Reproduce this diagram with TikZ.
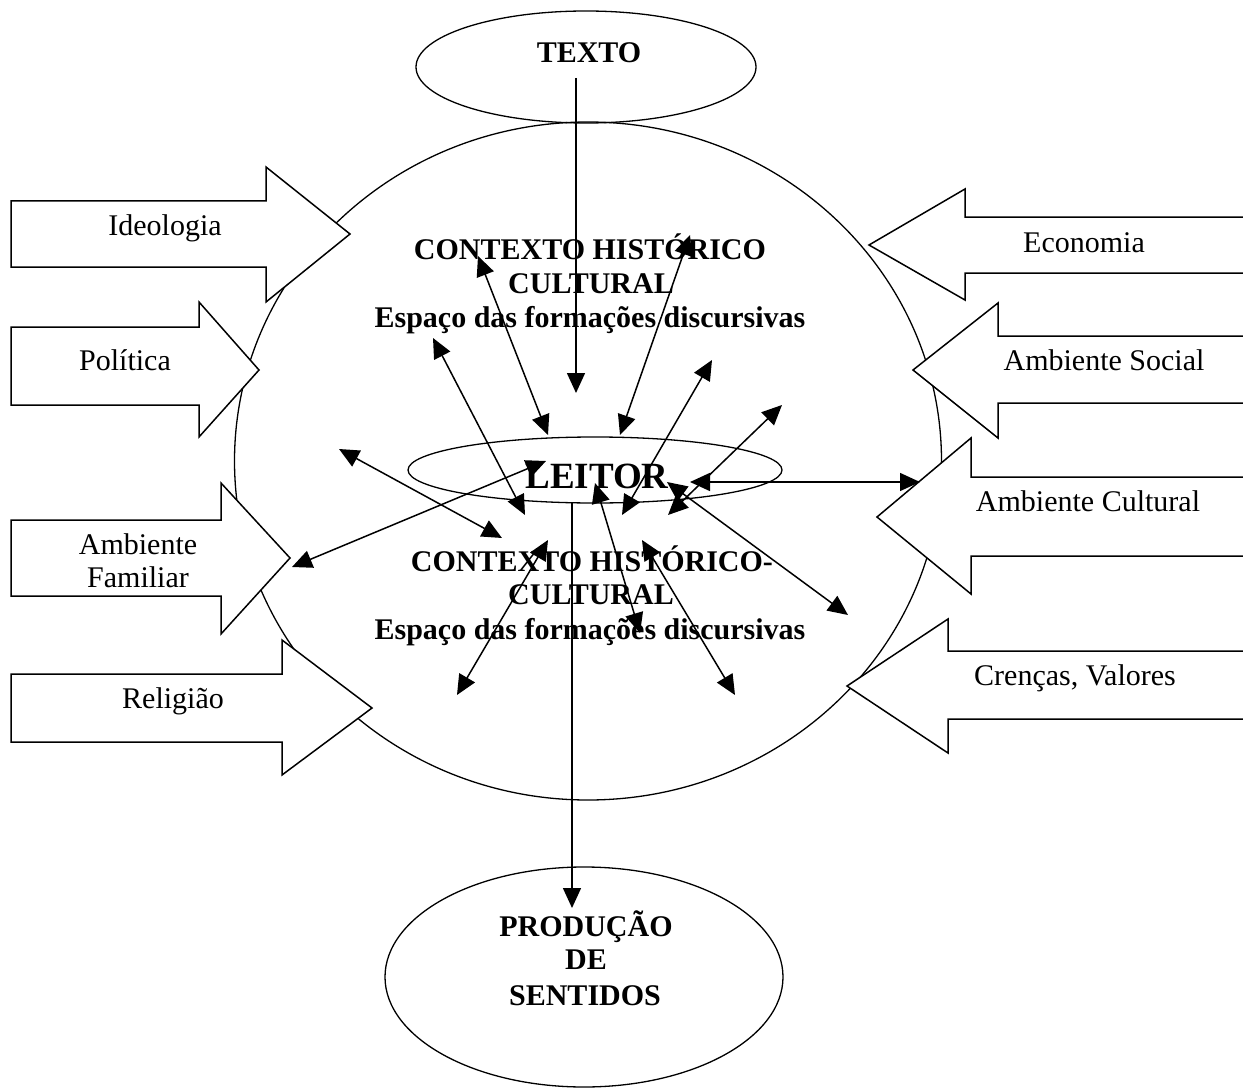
\documentclass[tikz,border=0pt]{standalone}
\usepackage{fontspec}
\setmainfont{Liberation Serif}
\usetikzlibrary{arrows.meta,shapes.geometric}

\begin{document}
\begin{tikzpicture}[x=1pt,y=-1pt,
  line width=1.5pt,
  tri/.tip={Triangle[length=20pt,width=18pt]},
  onearrow/.style={-tri},
  twoarrow/.style={tri-tri},
  oval/.style={draw, ellipse, inner sep=0pt, line width=1.3pt},
  block/.style={draw, fill=white, line width=1.5pt, line join=miter},
  lbl/.style={font=\fontsize{30}{34}\selectfont, inner sep=0pt, anchor=base},
  hdr/.style={font=\fontsize{30}{34}\selectfont\bfseries, inner sep=0pt, anchor=base}]

\useasboundingbox (0,0) rectangle (1243,1089);

% main context circle and the three ovals
\node[oval, minimum width=707pt, minimum height=678pt] (ctx) at (588,461) {};
\node[oval, minimum width=340pt, minimum height=112pt] (texto) at (586,67) {};
\node[oval, minimum width=398pt, minimum height=220pt] (prod) at (584,977) {};
\node[oval, minimum width=374pt, minimum height=66pt] (leitor) at (595,470) {};

% block arrows on the left, pointing right
\draw[block] (11,201) -- (266,201) -- (266,167) -- (350,234) -- (266,302) -- (266,267) -- (11,267) -- cycle;
\draw[block] (11,327) -- (199,327) -- (199,302) -- (259,370) -- (199,437) -- (199,405) -- (11,405) -- cycle;
\draw[block] (11,520) -- (221,520) -- (221,483) -- (290,558) -- (221,634) -- (221,596) -- (11,596) -- cycle;
\draw[block] (11,674) -- (282,674) -- (282,640) -- (372,708) -- (282,775) -- (282,742) -- (11,742) -- cycle;

% block arrows on the right, pointing left
\draw[block] (1250,217) -- (965,217) -- (965,189) -- (869,245) -- (965,300) -- (965,273) -- (1250,273);
\draw[block] (1250,336) -- (998,336) -- (998,303) -- (913,370) -- (998,438) -- (998,403) -- (1250,403);
\draw[block] (1250,477) -- (971,477) -- (971,438) -- (877,517) -- (971,594) -- (971,556) -- (1250,556);
\draw[block] (1250,651) -- (948,651) -- (948,619) -- (847,686) -- (948,753) -- (948,719) -- (1250,719);

% block arrow labels
\node[lbl] (ideo) at (165,236) {Ideologia};
\node[lbl] (poli) at (125,370) {Política};
\node[lbl] (fam1) at (138,554) {Ambiente};
\node[lbl] (fam2) at (138,587) {Familiar};
\node[lbl] (reli) at (173,708) {Religião};
\node[lbl] (econ) at (1084,252) {Economia};
\node[lbl] (soc) at (1104,370) {Ambiente Social};
\node[lbl] (cult) at (1088,511) {Ambiente Cultural};
\node[lbl] (cren) at (1075,685) {Crenças, Valores};

% oval texts
\node[hdr] (textoT) at (589,63) {TEXTO};
\node[hdr, font=\fontsize{37}{40}\selectfont\bfseries] (leitorT) at (597,488) {LEITOR};
\node[hdr] (prod1) at (586,936) {PRODUÇÃO};
\node[hdr] (prod2) at (586,969) {DE};
\node[hdr] (prod3) at (585,1005) {SENTIDOS};

% context texts
\node[hdr] (ctxA1) at (590,259) {CONTEXTO HISTÓRICO};
\node[hdr] (ctxA2) at (591,293) {CULTURAL};
\node[hdr] (ctxA3) at (590,327) {Espaço das formações discursivas};
\node[hdr] (ctxB1) at (592,571) {CONTEXTO HISTÓRICO-};
\node[hdr] (ctxB2) at (591,604) {CULTURAL};
\node[hdr] (ctxB3) at (590,639) {Espaço das formações discursivas};

% connector end points
\coordinate (tIn) at (576,78);
\coordinate (tOut) at (576,393);
\coordinate (lOut) at (572,503);
\coordinate (pIn) at (572,908);
\coordinate (a1) at (478,256);  \coordinate (b1) at (548,435);
\coordinate (a2) at (690,235);  \coordinate (b2) at (620,435);
\coordinate (a3) at (433,338);  \coordinate (b3) at (525,515);
\coordinate (a4) at (712,360);  \coordinate (b4) at (622,515);
\coordinate (a5) at (782,405);  \coordinate (b5) at (668,515);
\coordinate (a6) at (667,482);  \coordinate (b6) at (848,615);
\coordinate (a7) at (690,482);  \coordinate (b7) at (920,482);
\coordinate (a8) at (339,449);  \coordinate (b8) at (502,538);
\coordinate (a9) at (292,567);  \coordinate (b9) at (546,461);
\coordinate (a10) at (548,540); \coordinate (b10) at (457,695);
\coordinate (a11) at (595,483); \coordinate (b11) at (640,633);
\coordinate (a12) at (642,540); \coordinate (b12) at (735,695);

% connectors
\draw[onearrow] (tIn) -- (tOut);
\draw[onearrow] (lOut) -- (pIn);
\foreach \i in {1,...,12} \draw[twoarrow] (a\i) -- (b\i);

\end{tikzpicture}
\end{document}
